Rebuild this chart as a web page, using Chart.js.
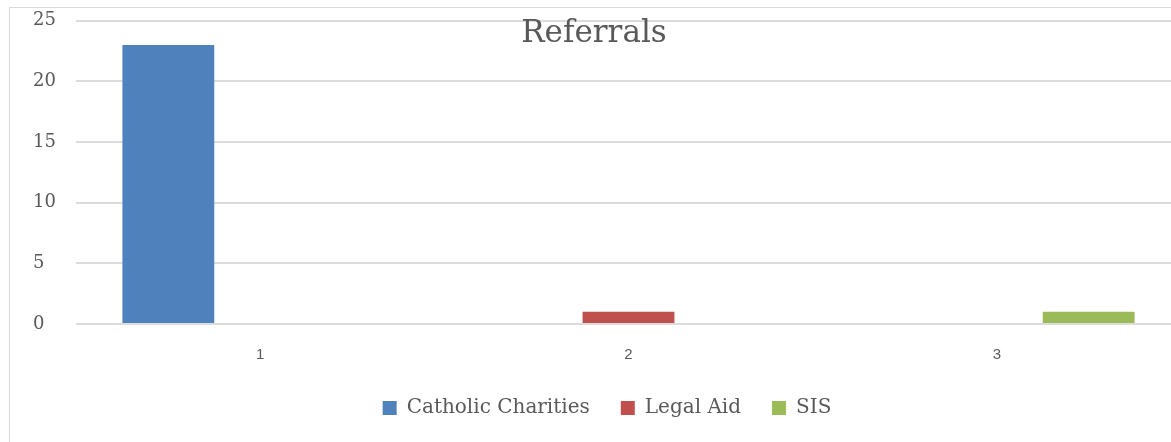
<!DOCTYPE html>
<html>
<head>
<meta charset="utf-8">
<script src="https://cdn.jsdelivr.net/npm/chart.js@4"></script>
<style>
  html, body { margin: 0; padding: 0; background: #fff; overflow: hidden; }
  #frame {
    position: absolute; left: 9px; top: 7px; width: 1200px; height: 460px;
    border-left: 1px solid #d9d9d9; border-top: 1px solid #d9d9d9;
  }
  #wrap { position: absolute; left: 0; top: 0; width: 1186px; height: 442px; }
</style>
</head>
<body>
<div id="frame"></div>
<div id="wrap"><canvas id="chart"></canvas></div>
<script>
const categories = ['1', '2', '3'];
const seriesNames = ['Catholic Charities', 'Legal Aid', 'SIS'];
const catholicCharities = [23, 0, 0];
const legalAid = [0, 1, 0];
const sis = [0, 0, 1];
const yTicks = [0, 5, 10, 15, 20, 25];
const chartTitle = 'Referrals';

const colors = ['#4F81BD', '#C0504D', '#9BBB59'];
const textGray = '#595959';

// title floats over the plot like the office chart, so draw it ourselves
const overlayTitle = {
  id: 'overlayTitle',
  afterDraw(c) {
    const ctx = c.ctx;
    ctx.save();
    ctx.font = '31px "DejaVu Serif"';
    ctx.fillStyle = textGray;
    ctx.textAlign = 'center';
    ctx.textBaseline = 'alphabetic';
    ctx.fillText(chartTitle, 594, 42);
    ctx.restore();
  }
};

const ctx = document.getElementById('chart').getContext('2d');
const chart = new Chart(ctx, {
  type: 'bar',
  data: {
    labels: categories,
    datasets: [
      { label: seriesNames[0], data: catholicCharities, backgroundColor: colors[0] },
      { label: seriesNames[1], data: legalAid, backgroundColor: colors[1] },
      { label: seriesNames[2], data: sis, backgroundColor: colors[2] }
    ]
  },
  options: {
    responsive: true,
    maintainAspectRatio: false,
    animation: false,
    categoryPercentage: 0.748,
    barPercentage: 1.0,
    layout: { padding: { top: 15, right: 5, left: 33, bottom: 14 } },
    scales: {
      x: {
        grid: { display: false, drawTicks: false },
        border: { display: false },
        ticks: { color: textGray, font: { family: 'Liberation Sans', size: 15 }, padding: 22 },
        afterFit(scale) { scale.height = 43; }
      },
      y: {
        min: 0,
        max: 25,
        afterBuildTicks(scale) { scale.ticks = yTicks.map(v => ({ value: v })); },
        grid: { color: '#dcdcdc', lineWidth: 2, drawTicks: false },
        border: { display: false },
        ticks: {
          color: textGray,
          font: { family: 'DejaVu Serif', size: 18 },
          crossAlign: 'far',
          padding: 10
        },
        afterFit(scale) { scale.width = 43; }
      }
    },
    plugins: {
      legend: {
        position: 'bottom',
        labels: {
          color: textGray,
          font: { family: 'DejaVu Serif', size: 20 },
          boxWidth: 14,
          boxHeight: 14,
          padding: 31
        }
      },
      tooltip: { enabled: false }
    }
  },
  plugins: [overlayTitle]
});
</script>
</body>
</html>
